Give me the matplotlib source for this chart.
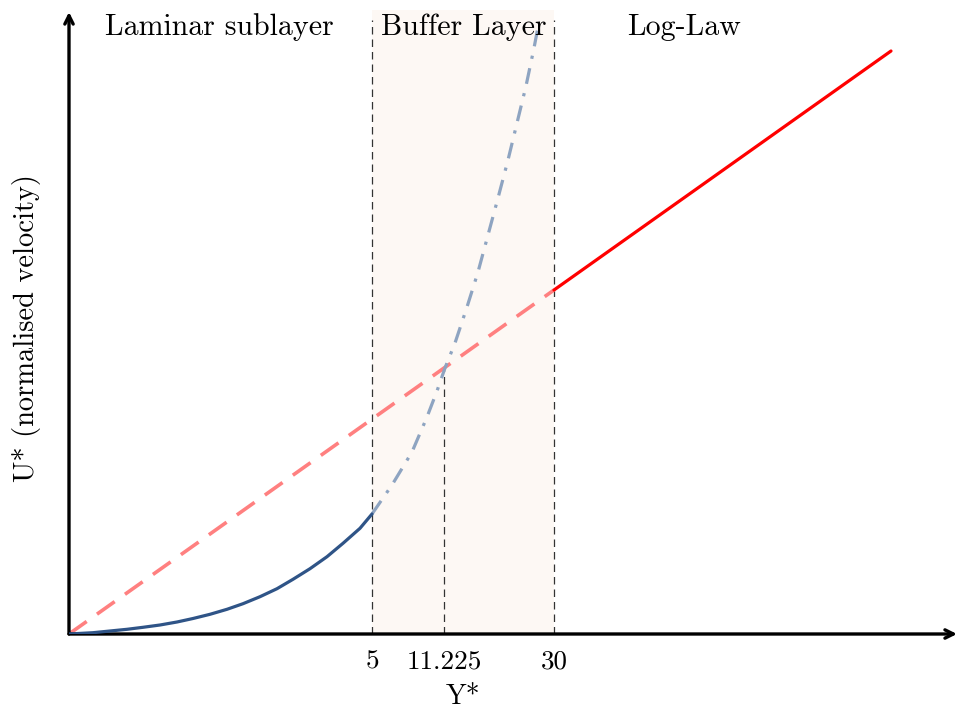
import matplotlib
matplotlib.use("Agg")
import matplotlib.pyplot as plt

plt.rcParams['font.family'] = ['cmr10', 'DejaVu Serif']
plt.rcParams['axes.unicode_minus'] = False

# Schematic coordinates (arbitrary units along each axis)
# Laminar sublayer profile (solid blue)
lam_x = [0, 2.4, 4.1, 5.8, 7.4, 9.1, 10.8, 12.4, 14.1, 15.8, 17.4, 19.1, 20.8,
         22.4, 24.1, 25.8, 27.4, 29.1, 30.3]
lam_y = [0, 0.13, 0.30, 0.47, 0.67, 0.90, 1.20, 1.55, 1.97, 2.47, 3.03, 3.73, 4.53,
         5.47, 6.53, 7.73, 9.07, 10.57, 12.0]
# Extension of laminar profile (dash-dot)
ext_x = [30.3, 32.3, 34.3, 35.8, 36.8, 37.6, 38.6, 39.8, 40.9, 41.9, 42.9, 43.9, 44.8, 45.7, 46.5, 47.0]
ext_y = [12.0, 14.9, 18.2, 21.7, 24.3, 26.6, 29.1, 32.7, 36.2, 39.9, 43.6, 47.4, 51.1, 54.8, 58.6, 61.2]
# Log-law: extrapolated (dashed) and valid region (solid)
log_ext_x = [0, 48.5]
log_ext_y = [0, 34.4]
log_x = [48.5, 82.2]
log_y = [34.4, 58.3]

# Region boundaries and tick labels
bound_x = [30.3, 37.5, 48.5]
bound_top = [61.4, 26.6, 61.4]
tick_labels = ['5', '11.225', '30']
regions = ['Laminar sublayer', 'Buffer Layer', 'Log-Law']
region_x = [15.0, 39.5, 61.5]

W, H = 957, 713
fig = plt.figure(figsize=(W / 100, H / 100), dpi=100)
ax = fig.add_axes([69 / W, (H - 634) / H, (W - 69) / W, 634 / H])
ax.set_xlim(0, 88.8)
ax.set_ylim(0, 63.4)
for s in ax.spines.values():
    s.set_visible(False)

# shaded buffer layer
ax.axvspan(bound_x[0], bound_x[2], ymin=0, ymax=62.4 / 63.4, color='#fdf8f4', zorder=0, lw=0)

# vertical dashed boundaries
for bx, bt in zip(bound_x, bound_top):
    ax.plot([bx, bx], [0, bt], color='#333333', lw=0.9, dashes=(6, 4), zorder=1)

ax.plot(log_ext_x, log_ext_y, color='#ff8080', lw=2.6, dashes=(6, 3.5), zorder=2)
ax.plot(log_x, log_y, color='#ff0000', lw=2.3, solid_capstyle='round', zorder=3)
ax.plot(ext_x, ext_y, color='#8ea4c1', lw=2.3, dashes=(5, 3, 1, 3), zorder=3)
ax.plot(lam_x, lam_y, color='#2f5487', lw=2.3, solid_capstyle='round',
        solid_joinstyle='round', zorder=4)

# axes arrows
ax.annotate('', xy=(88.8, 0), xytext=(0, 0), annotation_clip=False,
            arrowprops=dict(arrowstyle='->', lw=2.4, color='black', mutation_scale=15,
                            shrinkA=0, shrinkB=0))
ax.annotate('', xy=(0, 62.2), xytext=(0, 0), annotation_clip=False,
            arrowprops=dict(arrowstyle='->', lw=2.4, color='black', mutation_scale=15,
                            shrinkA=0, shrinkB=0))

ax.set_xticks(bound_x)
ax.set_xticklabels(tick_labels, fontsize=19.5)
ax.tick_params(axis='x', length=0, pad=11)
ax.set_yticks([])

ax.set_xlabel('Y*', fontsize=20)
ax.xaxis.set_label_coords((463 - 69) / 888, -(697 - 634) / 634)
ax.xaxis.label.set_va('center')
ax.set_ylabel('U* (normalised velocity)', fontsize=20.5)
ax.yaxis.set_label_coords((27 - 69) / 888, (634 - 328) / 634)
ax.yaxis.label.set_va('center')

for name, rx in zip(regions, region_x):
    ax.text(rx, 60.7, name, fontsize=21.5, ha='center', va='center')

fig.savefig('out.png', dpi=100)
